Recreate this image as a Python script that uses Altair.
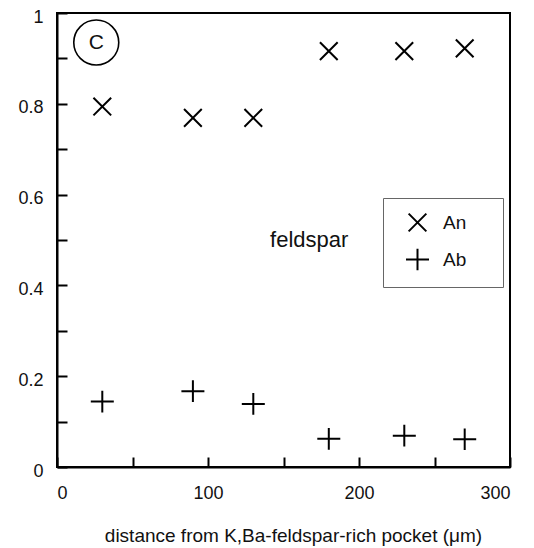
import altair as alt
import pandas as pd

# ---- data ----
distance = [30, 90, 130, 180, 230, 270]
an_values = [0.794, 0.769, 0.769, 0.916, 0.916, 0.922]
ab_values = [0.144, 0.167, 0.139, 0.062, 0.069, 0.061]
series = ["An", "Ab"]

x_label_values = [0, 100, 200, 300]
x_tick_values = [0, 50, 100, 150, 200, 250, 300]
y_label_values = [0, 0.2, 0.4, 0.6, 0.8, 1]
y_tick_values = [0, 0.1, 0.2, 0.3, 0.4, 0.5, 0.6, 0.7, 0.8, 0.9, 1]

annot_text = ["feldspar"]
annot_x = [167]
annot_y = [0.5]

panel_text = ["C"]
panel_x = [26]
panel_y = [0.935]

X_PATH = "M-0.77,-0.77L0.77,0.77M-0.77,0.77L0.77,-0.77"
PLUS_PATH = "M-1,0L1,0M0,-0.94L0,0.94"

df = pd.DataFrame({
    "distance": distance * 2,
    "value": an_values + ab_values,
    "phase": ["An"] * len(distance) + ["Ab"] * len(distance),
})
annot_df = pd.DataFrame({"text": annot_text, "x": annot_x, "y": annot_y})
panel_df = pd.DataFrame({"text": panel_text, "x": panel_x, "y": panel_y})

FONT = "Liberation Sans"
xscale = alt.Scale(domain=[0, 300], nice=False, zero=False)
yscale = alt.Scale(domain=[0, 1], nice=False, zero=False)

# blank glyphs to widen the legend box like the reference
PAD = "\u00a0\u00a0\u2800"

points = alt.Chart(df).mark_point(
    filled=False, strokeWidth=2, color="black", size=529, opacity=1
).encode(
    x=alt.X("distance:Q", scale=xscale,
            axis=alt.Axis(orient="bottom", values=x_label_values, ticks=False, tickSize=0,
                          grid=False, labelPadding=17, labelFont=FONT, labelFontSize=18,
                          labelColor="#111", domainColor="black", domainWidth=2,
                          title="distance from K,Ba-feldspar-rich pocket (μm)",
                          titleFont=FONT, titleFontSize=19, titleFontWeight="normal",
                          titleColor="#111", titlePadding=24, titleX=236)),
    y=alt.Y("value:Q", scale=yscale,
            axis=alt.Axis(orient="left", values=y_label_values, ticks=False, tickSize=0,
                          grid=False, format="~g", labelPadding=14, labelOffset=4,
                          labelFont=FONT, labelFontSize=18,
                          labelColor="#111", domainColor="black", domainWidth=2,
                          title="")),
    shape=alt.Shape("phase:N",
                    scale=alt.Scale(domain=series, range=[X_PATH, PLUS_PATH]),
                    legend=alt.Legend(title=None, orient="none", legendX=326, legendY=185,
                                      padding=12, strokeColor="#666", fillColor="white",
                                      symbolSize=529, symbolStrokeWidth=2,
                                      symbolStrokeColor="black", symbolFillColor="white",
                                      symbolOffset=10, labelOffset=13, rowPadding=8,
                                      labelFont=FONT, labelFontSize=19, labelColor="#111",
                                      labelExpr="datum.label + '" + PAD + "'")),
)

tick_layer = alt.Chart(df).mark_point(opacity=0).encode(
    x=alt.X("distance:Q", scale=xscale,
            axis=alt.Axis(orient="bottom", values=x_tick_values, labels=False, domain=False,
                          grid=False, ticks=True, tickSize=10, offset=-10,
                          tickColor="black", tickWidth=2, title="")),
    y=alt.Y("value:Q", scale=yscale,
            axis=alt.Axis(orient="left", values=y_tick_values, labels=False, domain=False,
                          grid=False, ticks=True, tickSize=10, offset=-10,
                          tickColor="black", tickWidth=2, title="")),
)

annot = alt.Chart(annot_df).mark_text(
    font=FONT, fontSize=22, color="#111", align="center", baseline="middle"
).encode(
    x=alt.X("x:Q", scale=xscale, axis=None),
    y=alt.Y("y:Q", scale=yscale, axis=None),
    text="text:N",
)

panel_circle = alt.Chart(panel_df).mark_point(
    shape="circle", filled=False, size=2025, strokeWidth=1.6, color="black", opacity=1
).encode(
    x=alt.X("x:Q", scale=xscale, axis=None),
    y=alt.Y("y:Q", scale=yscale, axis=None),
)

panel_letter = alt.Chart(panel_df).mark_text(
    font=FONT, fontSize=21, color="#111", align="center", baseline="middle"
).encode(
    x=alt.X("x:Q", scale=xscale, axis=None),
    y=alt.Y("y:Q", scale=yscale, axis=None),
    text="text:N",
)

chart = alt.layer(points, tick_layer, annot, panel_circle, panel_letter).resolve_axis(
    x="independent", y="independent"
).properties(
    width=453,
    height=454,
    autosize=alt.AutoSizeParams(type="none"),
    padding={"left": 49, "top": 5, "right": 16, "bottom": 80},
    background="white",
).configure_view(stroke="black", strokeWidth=2)

chart.save("out.html", embed_options={"renderer": "svg", "actions": False})
